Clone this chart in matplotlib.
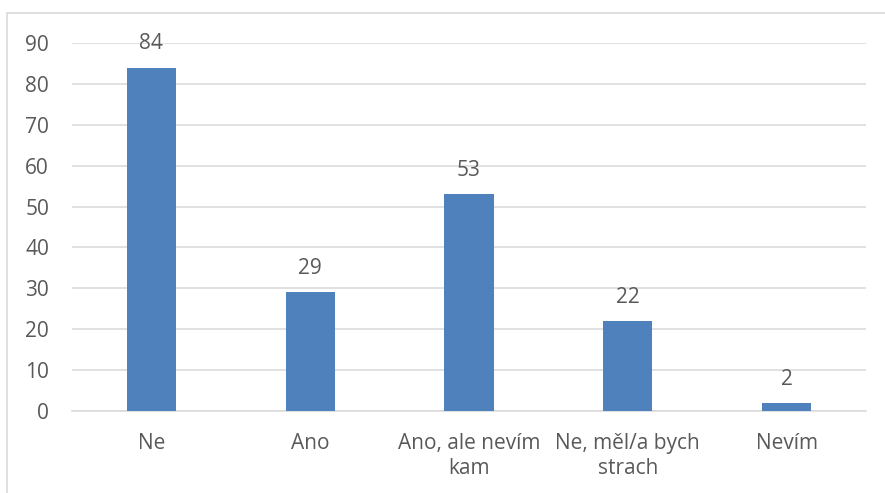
import matplotlib.pyplot as plt
from matplotlib.patches import Rectangle

categories = ["Ne", "Ano", "Ano, ale nevím\nkam", "Ne, měl/a bych\nstrach", "Nevím"]
values = [84, 29, 53, 22, 2]
yticks = [0, 10, 20, 30, 40, 50, 60, 70, 80, 90]

plt.rcParams['font.family'] = ['Open Sans', 'DejaVu Sans']
text_col = "#595959"
fs = 15

fig = plt.figure(figsize=(8.85, 4.93), dpi=100)
W, H = 885, 493
ax = fig.add_axes([72 / W, 1 - 411 / H, (866 - 72) / W, (411 - 43) / H])

x = range(len(categories))
ax.bar(x, values, width=0.31, color="#4F81BD", zorder=3)
for i, v in zip(x, values):
    ax.annotate(str(v), (i, v), xytext=(0, 13), textcoords="offset points",
                ha="center", va="baseline", fontsize=fs, color=text_col)

ax.set_xlim(-0.5, len(categories) - 0.5)
ax.set_ylim(0, 90)
ax.set_yticks(yticks)
ax.set_xticks(list(x))
ax.set_xticklabels(categories, fontsize=fs, color=text_col, linespacing=1.3)
ax.tick_params(axis="y", labelsize=fs, labelcolor=text_col, length=0, pad=16.5)
ax.tick_params(axis="x", length=0, pad=15.5)
ax.yaxis.grid(True, color="#D9D9D9", linewidth=1.1, zorder=0)
for s in ["top", "right", "left"]:
    ax.spines[s].set_visible(False)
ax.spines["bottom"].set_color("#D9D9D9")
ax.spines["bottom"].set_linewidth(1.1)

# chart area border
fig.add_artist(Rectangle((7 / W, -0.1), 1.2, 1 - 13 / H + 0.1, transform=fig.transFigure,
                         fill=False, edgecolor="#D9D9D9", linewidth=1.2))

fig.savefig("out.png", dpi=100)
